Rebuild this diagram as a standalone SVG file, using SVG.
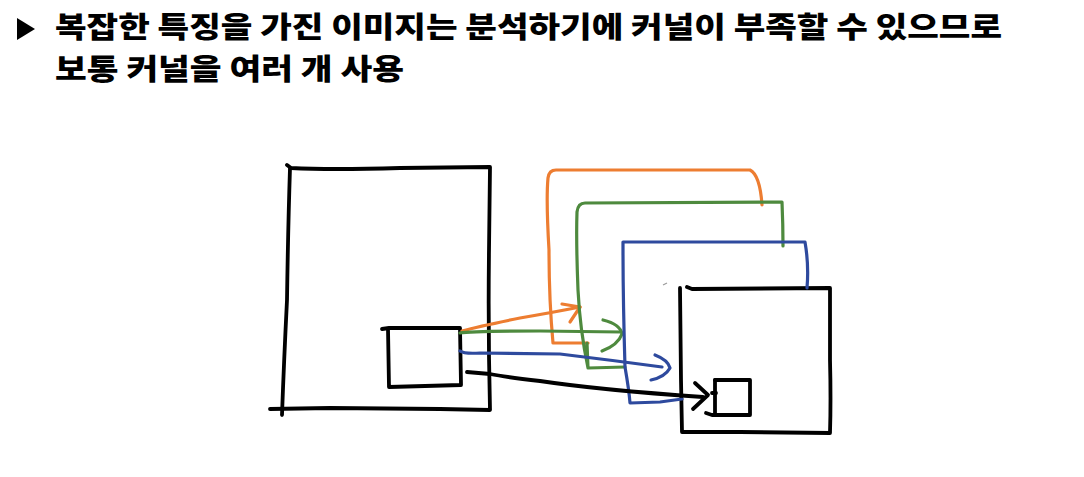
<svg xmlns="http://www.w3.org/2000/svg" width="1084" height="477" viewBox="0 0 1084 477">
<style>
.t{font-family:"Noto Sans CJK KR","Noto Sans",sans-serif;font-weight:900;font-size:29px;fill:#000}
.k{fill:none;stroke:#000;stroke-width:3.8;stroke-linecap:round;stroke-linejoin:round}
.o{fill:none;stroke:#ED7D31;stroke-width:3.2;stroke-linecap:round;stroke-linejoin:round}
.g{fill:none;stroke:#4E8A3E;stroke-width:3.2;stroke-linecap:round;stroke-linejoin:round}
.b{fill:none;stroke:#2E4A9E;stroke-width:3.2;stroke-linecap:round;stroke-linejoin:round}
</style>
<rect width="1084" height="477" fill="#fff"/>
<g id="title">
<polygon points="17,18 35,29 17,40" fill="#000"/>
<text class="t" x="55" y="38" textLength="947" lengthAdjust="spacingAndGlyphs">복잡한 특징을 가진 이미지는 분석하기에 커널이 부족할 수 있으므로</text>
<text class="t" x="55" y="80" textLength="349" lengthAdjust="spacingAndGlyphs">보통 커널을 여러 개 사용</text>
</g>
<g id="input-image">
<path class="k" d="M287,165 L291,168 Q330,170 400,168 L490,167 L489,250 Q488,330 490,410 L440,409 L330,408 L270,409"/>
<path class="k" d="M290,168 Q288,230 287,300 Q284,360 282,415"/>
</g>
<g id="input-patch">
<path class="k" d="M382,329 L389,328 L460,328 L461,385 L389,387 L388,329"/>
</g>
<g id="output-map">
<path class="k" d="M687,287 L692,289 L830,288 L830,360 Q831,400 830,433 L740,432 L682,432 L681,380 L680,288"/>
</g>
<g id="output-cell">
<path class="k" d="M715,380 L750,380 L750,415 L712,415 L706,413"/>
<path class="k" d="M715,380 L715,415"/>
</g>
<g id="connectors">
<path class="o" d="M462,331 Q480,326 520,318 Q555,312 580,307"/>
<path class="o" d="M562,304 L580,307 L570,322"/>
<path class="o" d="M588,343 L553,343 Q549,300 549,250 Q546,200 548,178 Q549,170 556,170 L750,170 Q760,175 762,205"/>
<path class="g" d="M460,333 Q470,331 540,331 L621,332"/>
<path class="g" d="M603,320 Q620,324 622,334 Q618,345 602,351"/>
<path class="g" d="M587,343 L588,368 L625,367 M588,368 Q580,330 578,290 Q576,240 577,212 Q578,203 585,203 L782,202 Q783,225 783,246"/>
<path class="b" d="M460,351 Q464,354 480,353 L560,354 Q610,360 662,367"/>
<path class="b" d="M655,355 Q668,360 670,368 Q665,377 651,380"/>
<path class="b" d="M625,367 Q623,300 623,248 L623,242 L805,242 Q809,265 807,288 M625,367 Q629,390 630,403 L660,402 L682,399"/>
<path class="k" d="M467,372 L490,374 Q505,377 540,381 Q600,390 703,397"/>
<path class="k" d="M695,383 L708,395 L693,409"/>
<path class="k" d="M712,393 L716,393"/>
<path d="M663,285 L667,283" stroke="#999" stroke-width="1.2" fill="none"/>
</g>
</svg>
